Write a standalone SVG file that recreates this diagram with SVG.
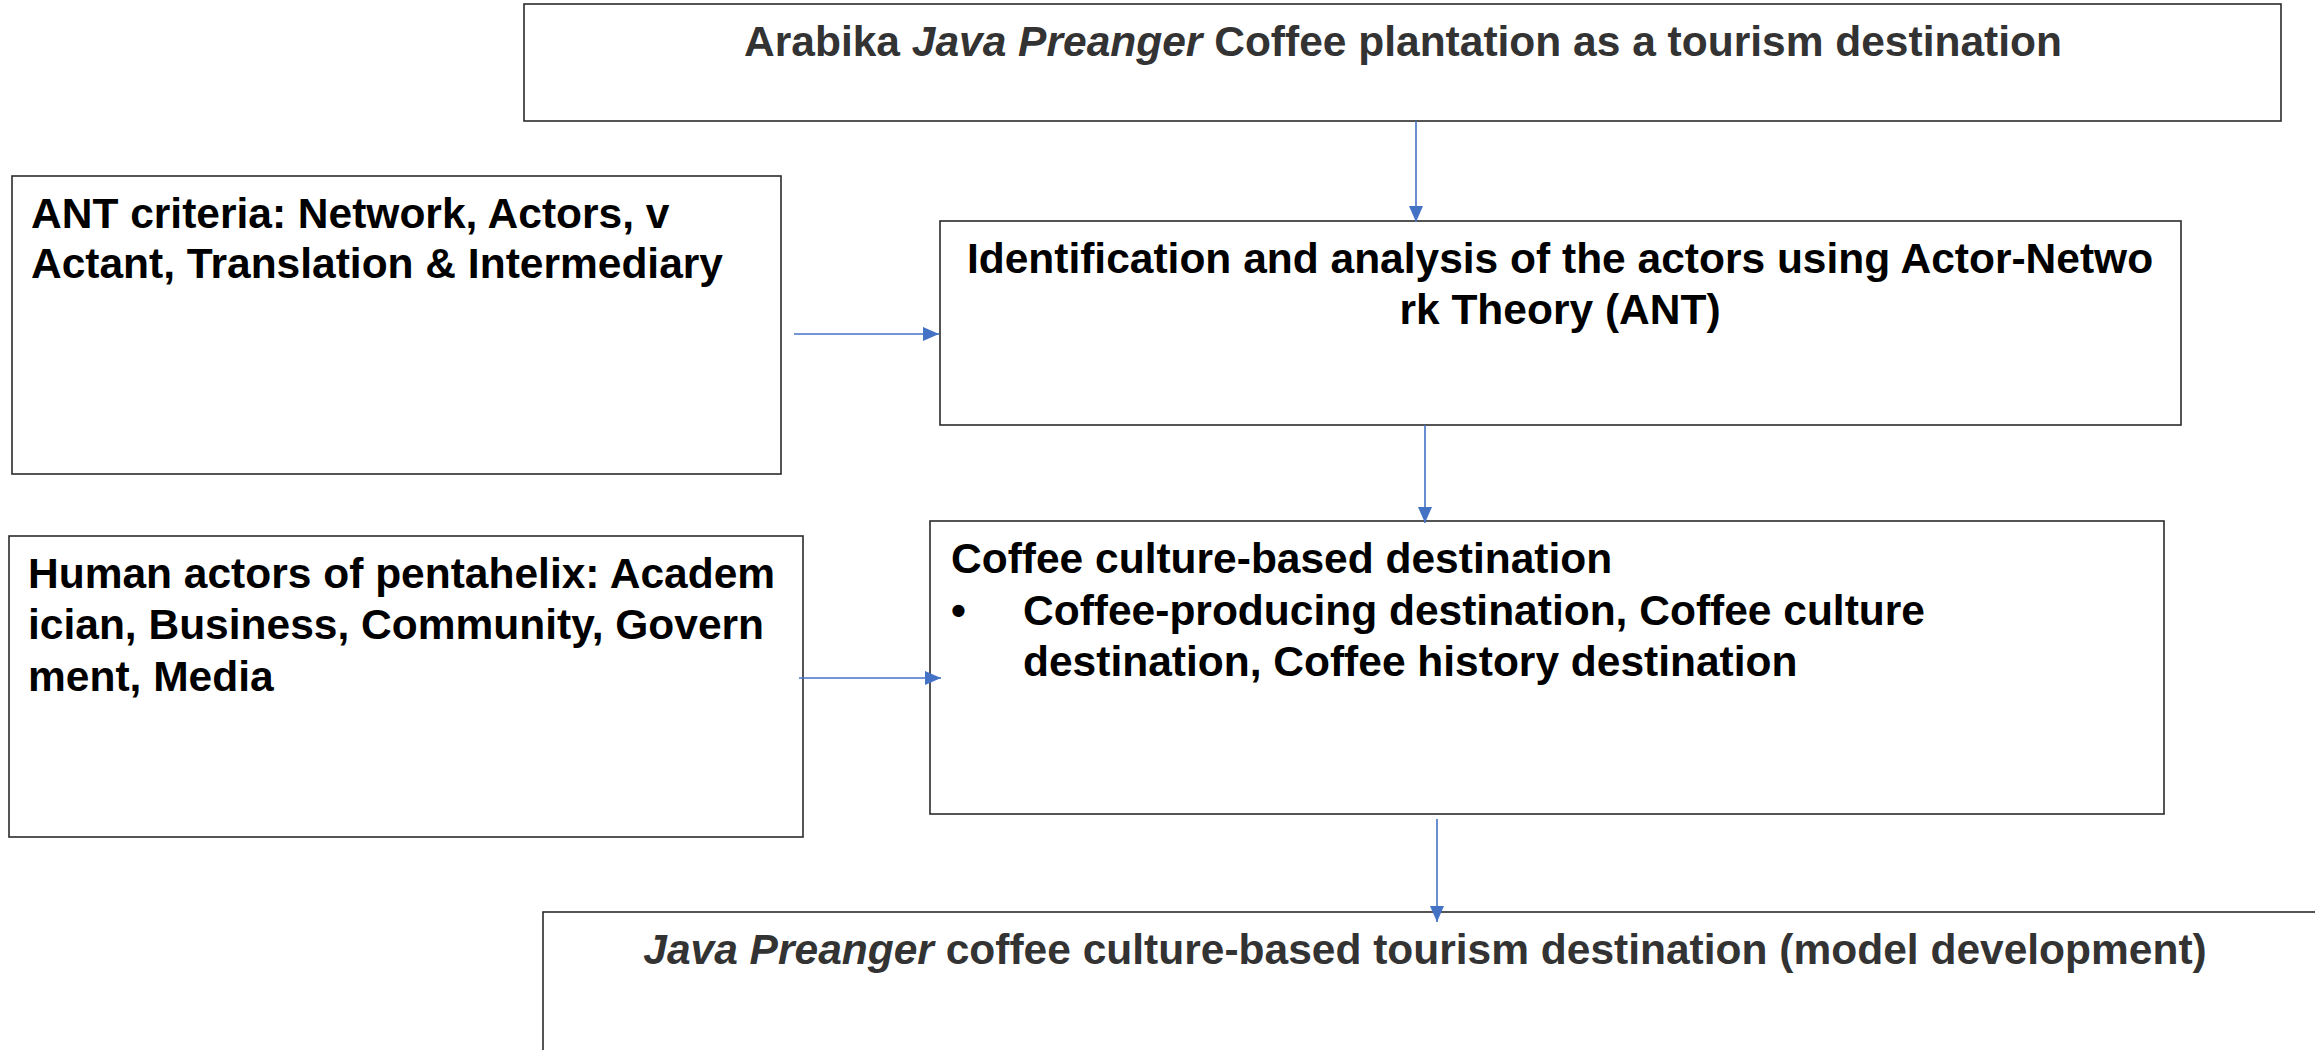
<svg xmlns="http://www.w3.org/2000/svg" width="2315" height="1050" viewBox="0 0 2315 1050">
<style>
.box{fill:#fff;stroke:#2b2b2b;stroke-width:1.6}
.t{font-family:"Liberation Sans",Arial,sans-serif;font-weight:bold;font-size:42.5px;fill:#000}
.g{fill:#333}
.c{text-anchor:middle}
.conn{stroke:#4472C4;stroke-width:1.6;fill:none}
</style>
<defs>
<marker id="ah" markerUnits="userSpaceOnUse" markerWidth="16" markerHeight="14" refX="16" refY="7" orient="auto">
<path d="M0,0 L16,7 L0,14 Z" fill="#4472C4"/>
</marker>
</defs>
<rect width="2315" height="1050" fill="#fff"/>
<g id="node-top">
<rect class="box" x="524" y="4" width="1757" height="117"/>
<text class="t g c" x="1403" y="56">Arabika <tspan font-style="italic">Java Preanger</tspan> Coffee plantation as a tourism destination</text>
</g>
<g id="node-ant">
<rect class="box" x="12" y="176" width="769" height="298"/>
<text class="t" x="31" y="228">ANT criteria: Network, Actors, v</text>
<text class="t" x="31" y="278">Actant, Translation &amp; Intermediary</text>
</g>
<g id="node-identification">
<rect class="box" x="940" y="221" width="1241" height="204"/>
<text class="t c" x="1560" y="273">Identification and analysis of the actors using Actor-Netwo</text>
<text class="t c" x="1560" y="324">rk Theory (ANT)</text>
</g>
<g id="node-human">
<rect class="box" x="9" y="536" width="794" height="301"/>
<text class="t" x="28" y="588">Human actors of pentahelix: Academ</text>
<text class="t" x="28" y="639">ician, Business, Community, Govern</text>
<text class="t" x="28" y="691">ment, Media</text>
</g>
<g id="node-coffee">
<rect class="box" x="930" y="521" width="1234" height="293"/>
<text class="t" x="951" y="573">Coffee culture-based destination</text>
<text class="t" x="951" y="625">•</text>
<text class="t" x="1023" y="625">Coffee-producing destination, Coffee culture</text>
<text class="t" x="1023" y="676">destination, Coffee history destination</text>
</g>
<g id="node-bottom">
<rect class="box" x="543" y="912" width="1800" height="160"/>
<text class="t g c" x="1425" y="964"><tspan font-style="italic">Java Preanger</tspan> coffee culture-based tourism destination (model development)</text>
</g>
<g id="connectors">
<line class="conn" x1="1416" y1="121" x2="1416" y2="222" marker-end="url(#ah)"/>
<line class="conn" x1="794" y1="334" x2="939" y2="334" marker-end="url(#ah)"/>
<line class="conn" x1="1425" y1="425" x2="1425" y2="523" marker-end="url(#ah)"/>
<line class="conn" x1="799" y1="678" x2="941" y2="678" marker-end="url(#ah)"/>
<line class="conn" x1="1437" y1="819" x2="1437" y2="922" marker-end="url(#ah)"/>
</g>
</svg>
